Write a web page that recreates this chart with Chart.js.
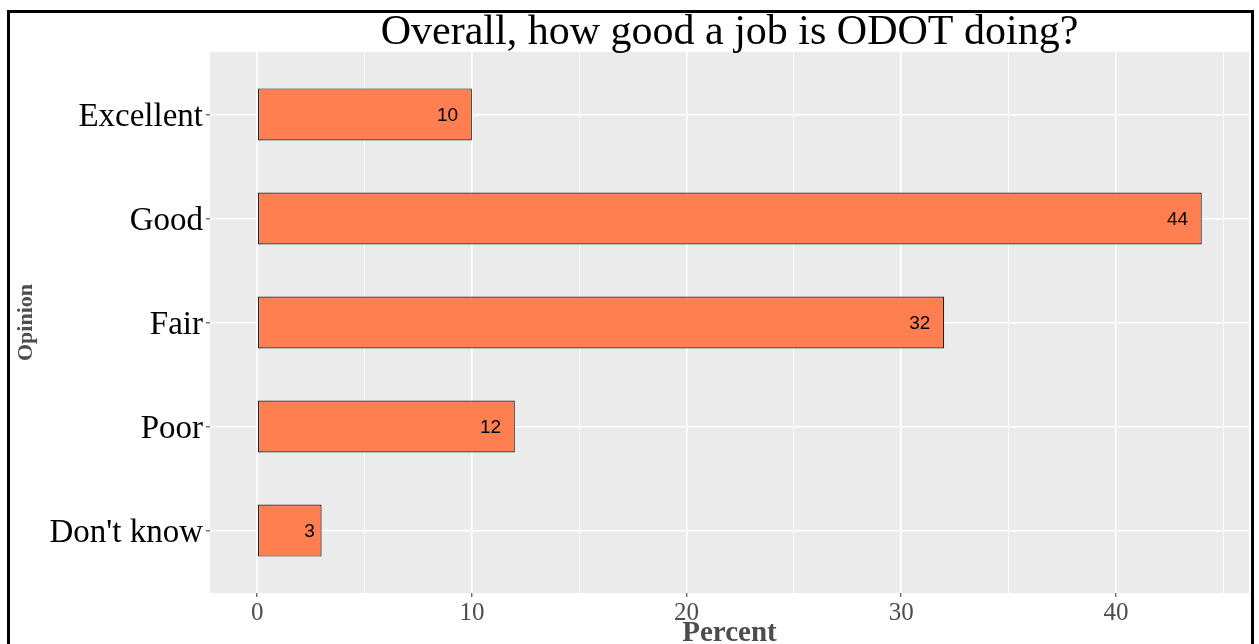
<!DOCTYPE html>
<html>
<head>
<meta charset="utf-8">
<script src="https://cdn.jsdelivr.net/npm/chart.js@4.4.1/dist/chart.umd.min.js"></script>
<style>
    html, body { margin: 0; padding: 0; background: #fff; overflow: hidden; }
    #wrap { position: relative; width: 1259px; height: 644px; }
    #frame {
        position: absolute; left: 7px; top: 10px; width: 1247px; height: 700px;
        border: 3px solid #000; box-sizing: border-box; pointer-events: none;
    }
</style>
</head>
<body>
<div id="wrap">
    <canvas id="chart" width="1259" height="644"></canvas>
    <div id="frame"></div>
</div>
<script>
const categories = ['Excellent', 'Good', 'Fair', 'Poor', "Don't know"];
const percents = [10, 44, 32, 12, 3];
const xTicks = [0, 10, 20, 30, 40];
const xMinorTicks = [5, 15, 25, 35, 45];

const serif = '"Liberation Serif", "Times New Roman", serif';

// grey panel behind the plot, like ggplot's theme_gray
const panelBackground = {
    id: 'panelBackground',
    beforeDraw(chart) {
        const { ctx, chartArea } = chart;
        ctx.save();
        ctx.fillStyle = '#ebebeb';
        ctx.fillRect(chartArea.left, chartArea.top, chartArea.right - chartArea.left, chartArea.bottom - chartArea.top);
        ctx.restore();
    }
};

// value printed inside the end of each bar
const barValues = {
    id: 'barValues',
    afterDatasetsDraw(chart) {
        const ctx = chart.ctx;
        const meta = chart.getDatasetMeta(0);
        ctx.save();
        ctx.font = '19px "Liberation Sans", Arial, sans-serif';
        ctx.fillStyle = '#000';
        ctx.textAlign = 'right';
        ctx.textBaseline = 'middle';
        meta.data.forEach((bar, i) => {
            const txt = String(percents[i]);
            const w = ctx.measureText(txt).width;
            ctx.fillText(txt, bar.x - 0.65 * w, bar.y + 1);
        });
        ctx.restore();
    }
};

const points = percents.map((v, i) => ({ x: v, y: i }));

new Chart(document.getElementById('chart'), {
    type: 'bar',
    data: {
        datasets: [{
            data: points,
            backgroundColor: '#ff7f50',
            borderColor: '#222',
            borderWidth: 1.2,
            borderSkipped: false,
            barPercentage: 0.5,
            categoryPercentage: 1
        }]
    },
    options: {
        indexAxis: 'y',
        responsive: false,
        animation: false,
        layout: { padding: { left: 0, right: 10, top: 0, bottom: 0 } },
        plugins: {
            legend: { display: false },
            tooltip: { enabled: false },
            title: {
                display: true,
                text: 'Overall, how good a job is ODOT doing?',
                fullSize: false,
                color: '#000',
                font: { family: serif, size: 42, weight: 'normal', lineHeight: 1 },
                padding: { top: 12, bottom: -2 }
            }
        },
        scales: {
            x: {
                type: 'linear',
                min: -2.2,
                max: 46.2,
                afterBuildTicks: scale => {
                    scale.ticks = xTicks.concat(xMinorTicks).sort((a, b) => a - b).map(v => ({ value: v }));
                },
                afterFit: scale => { scale.height = 51; },
                border: { display: false },
                grid: {
                    color: '#ffffff',
                    lineWidth: c => (xTicks.includes(c.tick.value) ? 1.6 : 0.8),
                    tickColor: c => (xTicks.includes(c.tick.value) ? '#333333' : 'rgba(0,0,0,0)'),
                    tickLength: 4,
                    tickWidth: 1
                },
                ticks: {
                    autoSkip: false,
                    maxRotation: 0,
                    padding: 1,
                    color: '#4d4d4d',
                    font: { family: serif, size: 25 },
                    callback: v => (xTicks.includes(v) ? String(v) : '')
                },
                title: {
                    display: true,
                    text: 'Percent',
                    color: '#4d4d4d',
                    font: { family: serif, size: 29, weight: 'bold', lineHeight: 0.75 },
                    padding: 0
                }
            },
            y: {
                type: 'linear',
                reverse: true,
                offset: false,
                min: -0.6,
                max: 4.6,
                afterBuildTicks: scale => {
                    scale.ticks = categories.map((c, i) => ({ value: i }));
                },
                afterFit: scale => { scale.width = 210; },
                border: { display: false },
                grid: {
                    offset: false,
                    color: '#ffffff',
                    lineWidth: 1.6,
                    tickColor: '#333333',
                    tickLength: 4,
                    tickWidth: 1
                },
                ticks: {
                    autoSkip: false,
                    padding: 3,
                    labelOffset: 3,
                    color: '#000',
                    font: { family: serif, size: 33 },
                    callback: v => categories[v]
                },
                title: {
                    display: true,
                    text: 'Opinion',
                    color: '#4d4d4d',
                    font: { family: serif, size: 22, weight: 'bold', lineHeight: 1 },
                    padding: { top: 15, bottom: 0 }
                }
            }
        }
    },
    plugins: [panelBackground, barValues]
});
</script>
</body>
</html>
